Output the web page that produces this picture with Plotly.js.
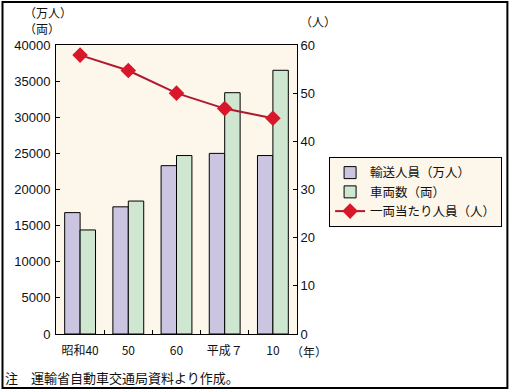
<!DOCTYPE html>
<html>
<head>
<meta charset="utf-8">
<script src="https://cdn.plot.ly/plotly-3.0.1.min.js"></script>
<style>html,body{margin:0;padding:0;background:#fff;}#chart{width:511px;height:391px;}</style>
</head>
<body>
<div id="chart"></div>
<script>
const categories = ["昭和40", "50", "60", "平成７", "10"];
const passengers = [16800, 17600, 23300, 25000, 24700];   // 輸送人員（万人）
const vehicles = [14400, 18400, 24700, 33400, 36500];     // 車両数（両）
const perVehicle = [57.9, 54.7, 50.0, 46.8, 44.8];        // 一両当たり人員（人）
const leftTicks = [0, 5000, 10000, 15000, 20000, 25000, 30000, 35000, 40000];
const rightTicks = [0, 10, 20, 30, 40, 50, 60];

const numFont = "Liberation Sans, Arial, Noto Sans CJK JP, sans-serif";
const jpFont = "Noto Sans CJK JP, sans-serif";

const traces = [
  {type: "bar", name: "輸送人員（万人）", x: categories, y: passengers,
   marker: {color: "#ccc5e1", line: {color: "#000", width: 1}}},
  {type: "bar", name: "車両数（両）", x: categories, y: vehicles,
   marker: {color: "#cfe7d1", line: {color: "#000", width: 1}}},
  {type: "scatter", mode: "lines+markers", name: "一両当たり人員（人）", x: categories, y: perVehicle,
   yaxis: "y2", line: {color: "#b0192d", width: 2},
   marker: {symbol: "diamond", size: 12, color: "#d9172b"}}
];

const layout = {
  width: 511, height: 391,
  margin: {l: 56, r: 214, t: 45, b: 57},
  paper_bgcolor: "#fff", plot_bgcolor: "#fdf6ea",
  barmode: "group", bargap: 0.36, bargroupgap: 0,
  showlegend: true,
  legend: {xref: "container", yref: "container", x: 0.644, y: 0.5985, xanchor: "left", yanchor: "top",
    bgcolor: "#fdf6ea", bordercolor: "#000", borderwidth: 1,
    font: {family: jpFont, size: 12.5, color: "#111"}, tracegroupgap: 0, itemwidth: 30},
  xaxis: {type: "category", range: [-0.5, 4.5], showline: true, linecolor: "#000", linewidth: 1,
    mirror: true, ticks: "inside", tickson: "boundaries", ticklen: 4, tickcolor: "#000", tickangle: 0,
    tickfont: {family: jpFont, size: 12, color: "#111"}, showgrid: false, zeroline: false,
    ticklabelstandoff: 6, automargin: false},
  yaxis: {range: [0, 40000], tickvals: leftTicks, ticktext: leftTicks.map(String), automargin: false,
    showline: true, linecolor: "#000", linewidth: 1, ticks: "inside", ticklen: 4, tickcolor: "#000",
    tickfont: {family: numFont, size: 13, color: "#111"}, showgrid: false, zeroline: false, ticklabelstandoff: 2},
  yaxis2: {overlaying: "y", side: "right", range: [0, 60], tickvals: rightTicks, automargin: false,
    showline: true, linecolor: "#000", linewidth: 1, ticks: "inside", ticklen: 4, tickcolor: "#000",
    tickfont: {family: numFont, size: 13, color: "#111"}, showgrid: false, zeroline: false},
  annotations: [
    {text: "（万人）", xref: "paper", yref: "paper", x: -0.14, y: 1.114, xanchor: "left", yanchor: "middle",
     showarrow: false, font: {family: jpFont, size: 12, color: "#111"}},
    {text: "（両）", xref: "paper", yref: "paper", x: -0.14, y: 1.057, xanchor: "left", yanchor: "middle",
     showarrow: false, font: {family: jpFont, size: 12, color: "#111"}},
    {text: "（人）", xref: "paper", yref: "paper", x: 1.005, y: 1.08, xanchor: "left", yanchor: "middle",
     showarrow: false, font: {family: jpFont, size: 12, color: "#111"}},
    {text: "（年）", xref: "paper", yref: "paper", x: 0.965, y: -0.062, xanchor: "left", yanchor: "middle",
     showarrow: false, font: {family: jpFont, size: 12, color: "#111"}},
    {text: "注　運輸省自動車交通局資料より作成。", xref: "paper", yref: "paper", x: -0.218, y: -0.15,
     xanchor: "left", yanchor: "middle", showarrow: false, font: {family: jpFont, size: 13, color: "#111"}}
  ],
  shapes: [
    {type: "rect", xref: "paper", yref: "paper", x0: -0.222, x1: 1.873, y0: -0.1869, y1: 1.1488,
     line: {color: "#000", width: 2}, fillcolor: "rgba(0,0,0,0)", layer: "below"}
  ]
};

Plotly.newPlot("chart", traces, layout, {displayModeBar: false, staticPlot: true});
</script>
</body>
</html>
